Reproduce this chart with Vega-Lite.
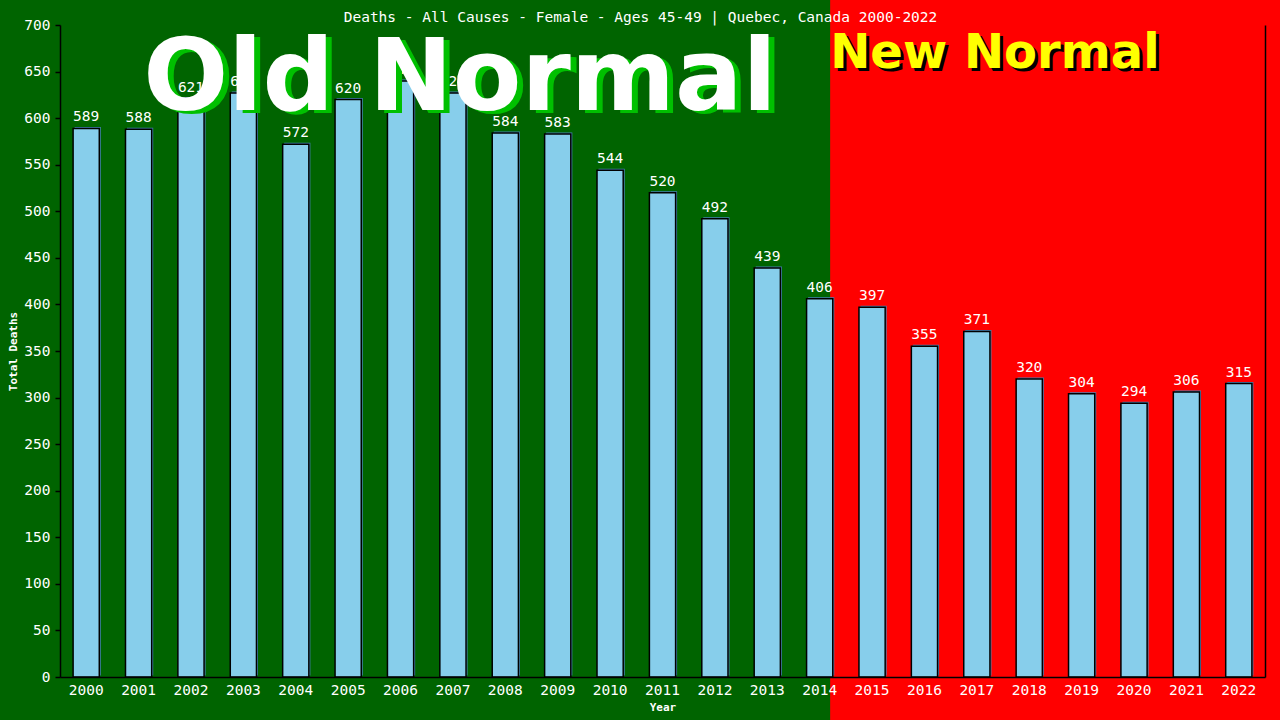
{
  "$schema": "https://vega.github.io/schema/vega-lite/v6.json",
  "description": "Deaths - All Causes - Female - Ages 45-49, Quebec 2000-2022",
  "width": 1205,
  "height": 652,
  "autosize": "none",
  "padding": {"left": 60, "top": 25, "right": 15, "bottom": 43},
  "background": "#006400",
  "title": {
    "text": "Deaths - All Causes - Female - Ages 45-49 | Quebec, Canada 2000-2022",
    "color": "white",
    "font": "DejaVu Sans Mono",
    "fontSize": 14.5,
    "fontWeight": "normal",
    "anchor": "middle",
    "baseline": "alphabetic",
    "dx": -22,
    "dy": 41,
    "offset": 0,
    "zindex": 1
  },
  "config": {
    "view": {"stroke": null},
    "axis": {
      "grid": false,
      "domainColor": "black",
      "domainWidth": 1.5,
      "tickColor": "black",
      "tickWidth": 1.5,
      "labelColor": "white",
      "labelFont": "DejaVu Sans Mono",
      "labelFontSize": 14.5,
      "titleColor": "white",
      "titleFont": "DejaVu Sans Mono",
      "titleFontSize": 11,
      "titleFontWeight": "bold"
    }
  },
  "data": {
    "values": [
      {"year": "2000", "deaths": 589},
      {"year": "2001", "deaths": 588},
      {"year": "2002", "deaths": 621},
      {"year": "2003", "deaths": 627},
      {"year": "2004", "deaths": 572},
      {"year": "2005", "deaths": 620},
      {"year": "2006", "deaths": 640},
      {"year": "2007", "deaths": 627},
      {"year": "2008", "deaths": 584},
      {"year": "2009", "deaths": 583},
      {"year": "2010", "deaths": 544},
      {"year": "2011", "deaths": 520},
      {"year": "2012", "deaths": 492},
      {"year": "2013", "deaths": 439},
      {"year": "2014", "deaths": 406},
      {"year": "2015", "deaths": 397},
      {"year": "2016", "deaths": 355},
      {"year": "2017", "deaths": 371},
      {"year": "2018", "deaths": 320},
      {"year": "2019", "deaths": 304},
      {"year": "2020", "deaths": 294},
      {"year": "2021", "deaths": 306},
      {"year": "2022", "deaths": 315}
    ]
  },
  "encoding": {
    "x": {
      "field": "year",
      "type": "ordinal",
      "scale": {"paddingInner": 0.5, "paddingOuter": 0.25},
      "axis": {"title": "Year", "labelAngle": 0, "ticks": false, "labelPadding": 6, "titlePadding": 5, "zindex": 2}
    }
  },
  "resolve": {"axis": {"y": "independent"}},
  "layer": [
    {
      "data": {"values": [{"period": "New Normal"}]},
      "mark": {"type": "rect", "color": "#ff0000", "yOffset": -30, "y2Offset": 60, "x2Offset": 200},
      "encoding": {
        "x": {"datum": "2014", "bandPosition": 0.9, "type": "ordinal"},
        "x2": {"datum": "2022"},
        "y": {"datum": 700, "type": "quantitative", "scale": {"domain": [0, 700], "nice": false}, "axis": null},
        "y2": {"datum": 0}
      }
    },
    {
      "mark": {"type": "bar", "fill": "#4682b4", "xOffset": 1.5, "yOffset": -1.5},
      "encoding": {
        "y": {"field": "deaths", "type": "quantitative", "axis": null}
      }
    },
    {
      "mark": {"type": "bar", "fill": "#87ceeb", "stroke": "black", "strokeWidth": 1.5},
      "encoding": {
        "y": {
          "field": "deaths",
          "type": "quantitative",
          "axis": {
            "orient": "left",
            "title": "Total Deaths",
            "values": [0, 50, 100, 150, 200, 250, 300, 350, 400, 450, 500, 550, 600, 650, 700],
            "tickSize": 5,
            "labelPadding": 5,
            "titlePadding": 5,
            "zindex": 2
          }
        }
      }
    },
    {
      "mark": {"type": "text", "color": "white", "font": "DejaVu Sans Mono", "fontSize": 14.5, "baseline": "bottom", "dy": -4},
      "encoding": {
        "y": {
          "field": "deaths",
          "type": "quantitative",
          "axis": {"orient": "right", "labels": false, "ticks": false, "title": null, "zindex": 2}
        },
        "text": {"field": "deaths", "type": "quantitative"}
      }
    },
    {
      "data": {"values": [{"label": "Old Normal"}]},
      "mark": {"type": "text", "color": "#00c000", "font": "DejaVu Sans", "fontWeight": "bold", "fontSize": 100, "align": "center", "baseline": "alphabetic", "dx": 6, "dy": 3},
      "encoding": {
        "x": {"datum": "2007", "bandPosition": 0.77, "type": "ordinal"},
        "y": {"datum": 609, "type": "quantitative", "axis": null},
        "text": {"field": "label"}
      }
    },
    {
      "data": {"values": [{"label": "Old Normal"}]},
      "mark": {"type": "text", "color": "white", "font": "DejaVu Sans", "fontWeight": "bold", "fontSize": 100, "align": "center", "baseline": "alphabetic"},
      "encoding": {
        "x": {"datum": "2007", "bandPosition": 0.77, "type": "ordinal"},
        "y": {"datum": 609, "type": "quantitative", "axis": null},
        "text": {"field": "label"}
      }
    },
    {
      "data": {"values": [{"label": "New Normal"}]},
      "mark": {"type": "text", "color": "black", "font": "DejaVu Sans", "fontWeight": "bold", "fontSize": 48, "align": "left", "baseline": "alphabetic", "dx": 3, "dy": 3},
      "encoding": {
        "x": {"datum": "2014", "bandPosition": 0.9, "type": "ordinal"},
        "y": {"datum": 654, "type": "quantitative", "axis": null},
        "text": {"field": "label"}
      }
    },
    {
      "data": {"values": [{"label": "New Normal"}]},
      "mark": {"type": "text", "color": "#ffff00", "font": "DejaVu Sans", "fontWeight": "bold", "fontSize": 48, "align": "left", "baseline": "alphabetic"},
      "encoding": {
        "x": {"datum": "2014", "bandPosition": 0.9, "type": "ordinal"},
        "y": {"datum": 654, "type": "quantitative", "axis": null},
        "text": {"field": "label"}
      }
    }
  ]
}
